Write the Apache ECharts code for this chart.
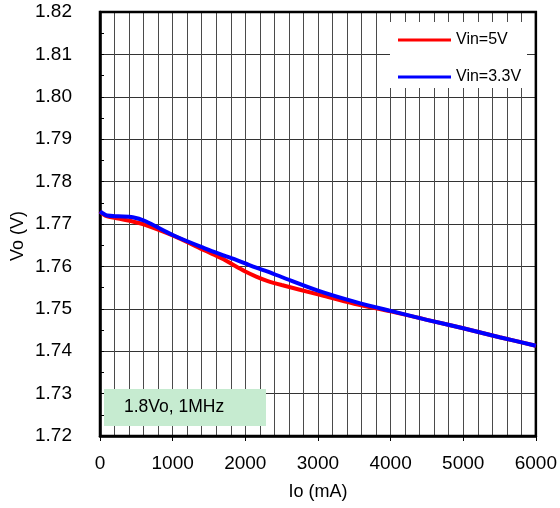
<!DOCTYPE html>
<html>
<head>
<meta charset="utf-8">
<script src="https://cdn.jsdelivr.net/npm/echarts@6/dist/echarts.min.js"></script>
<style>html,body{margin:0;padding:0;background:#fff}#c{width:560px;height:508px}</style>
</head>
<body>
<div id="c"></div>
<script>
const ioMA = [0, 50, 100, 250, 450, 620, 1000, 1450, 1700, 1850, 2000, 2150, 2300, 2500, 3000, 3500, 4000, 4500, 5000, 5500, 6000];
const vin5V = [1.7730, 1.7722, 1.7718, 1.7713, 1.7706, 1.7698, 1.7673, 1.7637, 1.7617, 1.7602, 1.7588, 1.7576, 1.7566, 1.7556, 1.7534, 1.7512, 1.7494, 1.7474, 1.7454, 1.7433, 1.7413];
const vin33V = [1.7730, 1.7724, 1.7720, 1.7718, 1.7716, 1.7707, 1.7674, 1.7642, 1.7626, 1.7617, 1.7607, 1.7597, 1.7588, 1.7575, 1.7543, 1.7517, 1.7495, 1.7474, 1.7454, 1.7433, 1.7413];
const seriesNames = ['Vin=5V', 'Vin=3.3V'];
const yTicks = ['1.72','1.73','1.74','1.75','1.76','1.77','1.78','1.79','1.80','1.81','1.82'];
const xTicks = ['0','1000','2000','3000','4000','5000','6000'];
const noteText = '1.8Vo, 1MHz';

const font = 'Liberation Sans, Arial, sans-serif';
const chart = echarts.init(document.getElementById('c'), null, {renderer: 'canvas'});
const pair = arr => ioMA.map((x, i) => [x, arr[i]]);
chart.setOption({
  animation: false,
  backgroundColor: '#fff',
  grid: {left: 100, right: 24, top: 12, bottom: 72, show: true, borderColor: '#000', borderWidth: 2.5, backgroundColor: 'transparent', z: 5},
  xAxis: [{
    type: 'value', min: 0, max: 6000, interval: 1000,
    name: 'Io (mA)', nameLocation: 'middle', nameGap: 47,
    nameTextStyle: {fontFamily: font, fontSize: 18, color: '#000'},
    axisLine: {show: true, lineStyle: {color: '#000', width: 2.5}},
    axisTick: {show: true, inside: false, length: 5, lineStyle: {color: '#000', width: 1}},
    axisLabel: {fontFamily: font, fontSize: 19, color: '#000', margin: 18, formatter: v => xTicks[Math.round(v / 1000)]},
    splitLine: {show: true, lineStyle: {color: '#444', width: 1}}
  }, {
    type: 'value', min: 0, max: 6000, interval: 200, position: 'bottom',
    axisLine: {show: false}, axisTick: {show: false}, axisLabel: {show: false},
    splitLine: {show: true, lineStyle: {color: '#4a4a4a', width: 1}}
  }],
  yAxis: {
    type: 'value', min: 1.72, max: 1.82, interval: 0.01,
    axisLine: {show: true, lineStyle: {color: '#000', width: 2.5}},
    axisTick: {show: true, inside: true, length: 4, lineStyle: {color: '#000'}},
    minorTick: {show: true, splitNumber: 2, length: 4, lineStyle: {color: '#000'}},
    axisLabel: {fontFamily: font, fontSize: 19, color: '#000', margin: 28, formatter: v => yTicks[Math.round((v - 1.72) * 100)]},
    splitLine: {show: true, lineStyle: {color: '#333', width: 1}}
  },
  legend: {
    data: seriesNames, orient: 'vertical', left: 398, top: 31, padding: 0, itemGap: 19,
    icon: 'rect', itemWidth: 53, itemHeight: 3, itemStyle: {borderWidth: 0},
    textStyle: {fontFamily: font, fontSize: 16, color: '#000', lineHeight: 18}, z: 20
  },
  graphic: [
    {type: 'rect', left: 390, top: 22, shape: {width: 137, height: 66}, style: {fill: '#fff'}, z: 10},
    {type: 'rect', left: 104, top: 389, shape: {width: 162, height: 37}, style: {fill: '#c6ebd0'}, z: 10},
    {type: 'text', left: 124, top: 398, style: {text: noteText, font: '17.5px ' + font, fill: '#000'}, z: 11},
    {type: 'text', x: 18, y: 236, rotation: Math.PI / 2, style: {text: 'Vo (V)', font: '18px ' + font, fill: '#000', align: 'center', verticalAlign: 'middle'}, z: 11}
  ],
  series: [
    {name: seriesNames[0], type: 'line', data: pair(vin5V), smooth: 0.3, showSymbol: false, symbol: 'none', color: '#ff0000', lineStyle: {color: '#ff0000', width: 4}, z: 6},
    {name: seriesNames[1], type: 'line', data: pair(vin33V), smooth: 0.3, showSymbol: false, symbol: 'none', color: '#0000ff', lineStyle: {color: '#0000ff', width: 4}, z: 7}
  ]
});
</script>
</body>
</html>
